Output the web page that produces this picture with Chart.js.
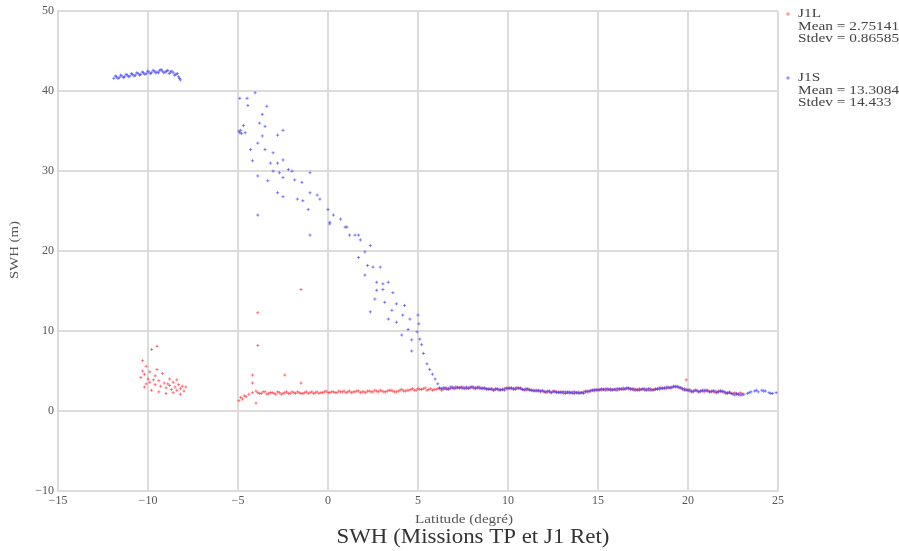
<!DOCTYPE html>
<html>
<head>
<meta charset="utf-8">
<script src="https://cdn.jsdelivr.net/npm/chart.js@4/dist/chart.umd.min.js"></script>
<style>
  html, body { margin: 0; padding: 0; background: #ffffff; }
  #wrap { width: 899px; height: 551px; }
</style>
</head>
<body>
<div id="wrap"><canvas id="swh" width="899" height="551"></canvas></div>
<script>
// Axis ticks
const latTicks = [-15, -10, -5, 0, 5, 10, 15, 20, 25];
const swhTicks = [-10, 0, 10, 20, 30, 40, 50];

// Legend texts for each mission
const seriesNames = ['J1L', 'J1S'];
const seriesMeans = ['2.75141', '13.3084'];
const seriesStdevs = ['0.86585', '14.433'];

// J1L: scattered returns near -10 degrees
const j1lCluster = [
  [-10.3, 6.3], [-10.1, 5.6], [-9.8, 7.7], [-9.5, 8.1], [-10.2, 4.6], [-9.5, 5.2],
  [-9.2, 4.7], [-10.4, 4.2], [-10.0, 4.0], [-9.9, 3.6], [-9.7, 3.9], [-9.6, 3.3],
  [-9.4, 3.8], [-9.3, 3.1], [-9.1, 3.5], [-9.0, 2.9], [-8.9, 3.4], [-8.8, 3.2],
  [-8.7, 2.7], [-8.6, 3.6], [-8.5, 3.0], [-8.4, 2.6], [-8.3, 3.3], [-8.2, 2.8],
  [-8.1, 3.1], [-8.0, 2.5], [-7.9, 3.0], [-10.2, 3.0], [-9.8, 2.6], [-9.4, 2.4],
  [-9.0, 2.2], [-8.6, 2.3], [-8.2, 2.1], [-10.1, 3.4], [-9.6, 4.4], [-8.8, 4.0],
  [-8.4, 3.9], [-10.3, 5.0], [-9.9, 4.9]
];

// J1L: isolated outliers
const j1lOutliers = [
  [-3.9, 12.3], [-3.9, 8.2], [-1.5, 15.2], [-4.2, 4.5], [-2.4, 4.5],
  [-1.5, 3.5], [-4.2, 3.5], [-4.0, 1.0], [19.9, 3.9]
];

// J1L: main track, even samples
const j1lTrack = [
  [-4.95, 1.3], [-4.85, 1.7], [-4.75, 1.5], [-4.65, 1.9], [-4.55, 1.8], [-4.4, 2.1],
  [-4.2, 2.3], [-4.0, 2.5], [-3.8, 2.2], [-3.6, 2.4], [-3.4, 2.1], [-3.2, 2.3],
  [-3.0, 2.2], [-2.8, 2.4], [-2.6, 2.1], [-2.4, 2.3], [-2.2, 2.2], [-2.0, 2.4],
  [-1.8, 2.2], [-1.6, 2.3], [-1.4, 2.2], [-1.2, 2.4], [-1.0, 2.3], [-0.8, 2.2],
  [-0.6, 2.4], [-0.4, 2.3], [-0.2, 2.4], [0.0, 2.3], [0.2, 2.4], [0.4, 2.3],
  [0.6, 2.5], [0.8, 2.4], [1.0, 2.3], [1.2, 2.5], [1.4, 2.4], [1.6, 2.5],
  [1.8, 2.3], [2.0, 2.4], [2.2, 2.5], [2.4, 2.4], [2.6, 2.6], [2.8, 2.4],
  [3.0, 2.5], [3.2, 2.4], [3.4, 2.6], [3.6, 2.5], [3.8, 2.4], [4.0, 2.6],
  [4.2, 2.5], [4.4, 2.6], [4.6, 2.7], [4.8, 2.6], [5.0, 2.8], [5.2, 2.7],
  [5.4, 2.9], [5.6, 2.7], [5.8, 2.6], [6.0, 2.7], [6.2, 2.8], [6.4, 2.7],
  [6.6, 2.9], [6.8, 2.8], [7.0, 2.9], [7.2, 3.0], [7.4, 2.9], [7.6, 2.8],
  [7.8, 2.9], [8.0, 3.0], [8.2, 2.9], [8.4, 2.8], [8.6, 2.9], [8.8, 2.7],
  [9.0, 2.8], [9.2, 2.6], [9.4, 2.7], [9.6, 2.6], [9.8, 2.8], [10.0, 2.9],
  [10.2, 2.8], [10.4, 2.9], [10.6, 2.8], [10.8, 2.7], [11.0, 2.6], [11.2, 2.7],
  [11.4, 2.5], [11.6, 2.6], [11.8, 2.4], [12.0, 2.5], [12.2, 2.4], [12.4, 2.3],
  [12.6, 2.5], [12.8, 2.4], [13.0, 2.3], [13.2, 2.4], [13.4, 2.2], [13.6, 2.4],
  [13.8, 2.3], [14.0, 2.2], [14.2, 2.4], [14.4, 2.5], [14.6, 2.6], [14.8, 2.5],
  [15.0, 2.7], [15.2, 2.6], [15.4, 2.8], [15.6, 2.7], [15.8, 2.6], [16.0, 2.8],
  [16.2, 2.7], [16.4, 2.9], [16.6, 2.8], [16.8, 2.7], [17.0, 2.8], [17.2, 2.6],
  [17.4, 2.7], [17.6, 2.8], [17.8, 2.6], [18.0, 2.7], [18.2, 2.8], [18.4, 2.7],
  [18.6, 2.9], [18.8, 2.8], [19.0, 2.9], [19.2, 3.0], [19.4, 3.1], [19.6, 2.9],
  [19.8, 2.8], [20.0, 2.6], [20.2, 2.5], [20.4, 2.6], [20.6, 2.4], [20.8, 2.6],
  [21.0, 2.5], [21.2, 2.4], [21.4, 2.5], [21.6, 2.4], [21.8, 2.5], [22.0, 2.4],
  [22.2, 2.3], [22.4, 2.2], [22.6, 2.3], [22.8, 2.1], [23.0, 2.2]
];

// J1L: main track, odd samples
const j1lTrackOdd = [
  [-3.9, 2.3], [-3.7, 2.2], [-3.5, 2.4], [-3.3, 2.2], [-3.1, 2.3], [-2.9, 2.1],
  [-2.7, 2.3], [-2.5, 2.2], [-2.3, 2.4], [-2.1, 2.2], [-1.9, 2.3], [-1.7, 2.4],
  [-1.5, 2.2], [-1.3, 2.3], [-1.1, 2.2], [-0.9, 2.4], [-0.7, 2.3], [-0.5, 2.2],
  [-0.3, 2.3], [-0.1, 2.5], [0.1, 2.3], [0.3, 2.4], [0.5, 2.3], [0.7, 2.4],
  [0.9, 2.5], [1.1, 2.4], [1.3, 2.3], [1.5, 2.4], [1.7, 2.5], [1.9, 2.4],
  [2.1, 2.3], [2.3, 2.5], [2.5, 2.4], [2.7, 2.5], [2.9, 2.6], [3.1, 2.4],
  [3.3, 2.5], [3.5, 2.6], [3.7, 2.4], [3.9, 2.5], [4.1, 2.7], [4.3, 2.5],
  [4.5, 2.6], [4.7, 2.8], [4.9, 2.6], [5.1, 2.7], [5.3, 2.8], [5.5, 2.6],
  [5.7, 2.8], [5.9, 2.7], [6.1, 2.8], [6.3, 2.6], [6.5, 2.8], [6.7, 2.7],
  [6.9, 3.0], [7.1, 2.8], [7.3, 2.9], [7.5, 3.0], [7.7, 2.8], [7.9, 3.0],
  [8.1, 2.8], [8.3, 3.0], [8.5, 2.9], [8.7, 2.8], [8.9, 2.8], [9.1, 2.7],
  [9.3, 2.8], [9.5, 2.7], [9.7, 2.7], [9.9, 2.9], [10.1, 2.8], [10.3, 2.7],
  [10.5, 2.8], [10.7, 2.9], [10.9, 2.6], [11.1, 2.8], [11.3, 2.6], [11.5, 2.6],
  [11.7, 2.5], [11.9, 2.6], [12.1, 2.3], [12.3, 2.4], [12.5, 2.5], [12.7, 2.3],
  [12.9, 2.4], [13.1, 2.2], [13.3, 2.4], [13.5, 2.3], [13.7, 2.2], [13.9, 2.4],
  [14.1, 2.3], [14.3, 2.5], [14.5, 2.4], [14.7, 2.6], [14.9, 2.7], [15.1, 2.6],
  [15.3, 2.7], [15.5, 2.6], [15.7, 2.8], [15.9, 2.7], [16.1, 2.6], [16.3, 2.8],
  [16.5, 2.7], [16.7, 2.9], [16.9, 2.8], [17.1, 2.6], [17.3, 2.8], [17.5, 2.7],
  [17.7, 2.6], [17.9, 2.8], [18.1, 2.6], [18.3, 2.7], [18.5, 2.9], [18.7, 2.8],
  [18.9, 3.0], [19.1, 2.9], [19.3, 3.0], [19.5, 2.9], [19.7, 2.7], [19.9, 2.6],
  [20.1, 2.7], [20.3, 2.4], [20.5, 2.6], [20.7, 2.5], [20.9, 2.4], [21.1, 2.6],
  [21.3, 2.5], [21.5, 2.3], [21.7, 2.5], [21.9, 2.4], [22.1, 2.2], [22.3, 2.4],
  [22.5, 2.2], [22.7, 2.1], [22.9, 2.3]
];

// J1S: plateau between -12 and -8 degrees
const j1sPlateau = [
  [-11.9, 41.6], [-11.75, 41.8], [-11.6, 41.7], [-11.45, 41.9], [-11.3, 41.8],
  [-11.15, 42.0], [-11.0, 41.9], [-10.85, 42.1], [-10.7, 42.0], [-10.55, 42.2],
  [-10.4, 42.1], [-10.25, 42.3], [-10.1, 42.2], [-9.95, 42.4], [-9.8, 42.3],
  [-9.65, 42.5], [-9.5, 42.4], [-9.35, 42.6], [-9.2, 42.5], [-9.05, 42.4],
  [-8.9, 42.6], [-8.75, 42.4], [-8.6, 42.3], [-8.45, 42.1], [-8.3, 41.8], [-8.2, 41.4],
  [-11.82, 41.9], [-11.67, 41.6], [-11.52, 42.0], [-11.37, 41.7], [-11.22, 42.1],
  [-11.07, 41.8], [-10.92, 42.2], [-10.77, 41.9], [-10.62, 42.3], [-10.47, 42.0],
  [-10.32, 42.4], [-10.17, 42.1], [-10.02, 42.5], [-9.87, 42.2], [-9.72, 42.6],
  [-9.57, 42.3], [-9.42, 42.3], [-9.27, 42.7], [-9.12, 42.3], [-8.97, 42.5],
  [-8.82, 42.2], [-8.67, 42.5], [-8.52, 42.0], [-8.37, 42.2], [-8.25, 41.6]
];

// J1S: descending branch from -5 to 6 degrees
const j1sDescent = [
  [-4.95, 35.0], [-4.9, 34.8], [-4.85, 35.1], [-4.8, 34.7], [-4.6, 34.8],
  [-4.9, 39.1], [-4.5, 39.1], [-4.45, 38.2], [-4.05, 39.8], [-3.4, 38.1],
  [-3.65, 37.1], [-4.7, 35.7], [-3.8, 36.0], [-3.5, 35.6], [-3.65, 34.4],
  [-3.9, 33.5], [-4.3, 32.7], [-3.5, 32.7], [-3.05, 32.3], [-2.8, 34.5],
  [-2.5, 35.1], [-4.2, 31.3], [-3.2, 31.0], [-2.8, 31.0], [-2.5, 31.4],
  [-2.2, 30.2], [-2.0, 30.0], [-2.7, 29.8], [-3.05, 30.0], [-3.9, 29.4],
  [-3.35, 28.8], [-2.5, 29.2], [-1.85, 28.9], [-1.45, 28.6], [-1.0, 29.8],
  [-2.8, 27.3], [-2.5, 26.8], [-1.7, 26.5], [-1.4, 26.3], [-1.0, 27.3],
  [-0.6, 27.0], [-0.45, 26.5], [0.0, 25.2], [0.3, 24.5], [0.7, 24.0],
  [1.05, 23.0], [1.2, 22.0], [1.7, 22.0], [-1.0, 22.0], [-3.9, 24.5],
  [-1.1, 25.2], [0.1, 23.6], [0.1, 23.4], [0.95, 23.0], [1.5, 22.0],
  [1.8, 21.4], [2.35, 20.7], [2.05, 19.9], [1.7, 19.2], [2.2, 18.2],
  [2.5, 18.0], [2.9, 18.0], [2.05, 17.0], [2.7, 16.1], [3.05, 15.9],
  [3.35, 16.1], [2.7, 15.1], [3.05, 15.2], [3.6, 14.8], [2.6, 14.0],
  [3.15, 13.6], [3.8, 13.4], [4.25, 13.2], [2.35, 12.4], [3.55, 12.6],
  [3.35, 11.5], [3.8, 11.1], [4.15, 12.0], [4.55, 11.5], [5.0, 12.0],
  [5.05, 10.9], [4.1, 9.5], [4.45, 10.2], [4.95, 9.9], [4.65, 8.9],
  [5.1, 9.0], [4.65, 7.5], [5.2, 8.3], [5.3, 7.2], [5.5, 5.9],
  [5.65, 5.2], [5.8, 4.6], [5.95, 4.0], [6.1, 3.4], [6.2, 2.9]
];

// J1S: flat track from 6 to 25 degrees, odd samples
const j1sTrack = [
  [6.3, 2.8], [6.5, 2.9], [6.7, 2.8], [6.9, 2.9], [7.1, 3.0], [7.3, 2.9],
  [7.5, 2.8], [7.7, 3.0], [7.9, 2.9], [8.1, 3.0], [8.3, 2.9], [8.5, 2.8],
  [8.7, 2.9], [8.9, 2.7], [9.1, 2.8], [9.3, 2.7], [9.5, 2.6], [9.7, 2.7],
  [9.9, 2.8], [10.1, 2.9], [10.3, 2.8], [10.5, 2.9], [10.7, 2.8], [10.9, 2.7],
  [11.1, 2.7], [11.3, 2.6], [11.5, 2.5], [11.7, 2.6], [11.9, 2.5], [12.1, 2.4],
  [12.3, 2.5], [12.5, 2.4], [12.7, 2.4], [12.9, 2.3], [13.1, 2.4], [13.3, 2.3],
  [13.5, 2.3], [13.7, 2.4], [13.9, 2.2], [14.1, 2.3], [14.3, 2.4], [14.5, 2.5],
  [14.7, 2.6], [14.9, 2.6], [15.1, 2.7], [15.3, 2.7], [15.5, 2.8], [15.7, 2.6],
  [15.9, 2.7], [16.1, 2.8], [16.3, 2.7], [16.5, 2.8], [16.7, 2.8], [16.9, 2.7],
  [17.1, 2.7], [17.3, 2.6], [17.5, 2.8], [17.7, 2.7], [17.9, 2.6], [18.1, 2.7],
  [18.3, 2.8], [18.5, 2.8], [18.7, 2.9], [18.9, 2.9], [19.1, 3.0], [19.3, 3.1],
  [19.5, 3.0], [19.7, 2.8], [19.9, 2.7], [20.1, 2.5], [20.3, 2.5], [20.5, 2.5],
  [20.7, 2.5], [20.9, 2.6], [21.1, 2.5], [21.3, 2.4], [21.5, 2.5], [21.7, 2.4],
  [21.9, 2.5], [22.1, 2.3], [22.3, 2.3], [22.5, 2.1], [22.7, 2.2], [22.9, 2.0],
  [23.1, 2.1], [23.3, 2.2], [23.5, 2.4], [23.7, 2.5], [23.9, 2.4], [24.1, 2.6],
  [24.3, 2.5], [24.5, 2.3], [24.7, 2.2], [24.9, 2.3]
];

// J1S: flat track, even samples
const j1sTrackEven = [
  [6.4, 2.9], [6.6, 2.7], [6.8, 3.0], [7.0, 2.8], [7.2, 2.9], [7.4, 3.0],
  [7.6, 2.9], [7.8, 2.8], [8.0, 3.0], [8.2, 2.8], [8.4, 3.0], [8.6, 2.8],
  [8.8, 2.8], [9.0, 2.7], [9.2, 2.6], [9.4, 2.8], [9.6, 2.7], [9.8, 2.6],
  [10.0, 2.8], [10.2, 2.9], [10.4, 2.7], [10.6, 2.9], [10.8, 2.7], [11.0, 2.8],
  [11.2, 2.6], [11.4, 2.6], [11.6, 2.5], [11.8, 2.5], [12.0, 2.4], [12.2, 2.5],
  [12.4, 2.3], [12.6, 2.4], [12.8, 2.3], [13.0, 2.4], [13.2, 2.2], [13.4, 2.4],
  [13.6, 2.2], [13.8, 2.3], [14.0, 2.3], [14.2, 2.2], [14.4, 2.4], [14.6, 2.5],
  [14.8, 2.7], [15.0, 2.6], [15.2, 2.8], [15.4, 2.6], [15.6, 2.7], [15.8, 2.7],
  [16.0, 2.6], [16.2, 2.8], [16.4, 2.7], [16.6, 2.9], [16.8, 2.8], [17.0, 2.6],
  [17.2, 2.7], [17.4, 2.7], [17.6, 2.6], [17.8, 2.8], [18.0, 2.6], [18.2, 2.7],
  [18.4, 2.9], [18.6, 2.8], [18.8, 3.0], [19.0, 2.9], [19.2, 3.1], [19.4, 3.0],
  [19.6, 2.9], [19.8, 2.6], [20.0, 2.6], [20.2, 2.4], [20.4, 2.6], [20.6, 2.4],
  [20.8, 2.5], [21.0, 2.6], [21.2, 2.4], [21.4, 2.5], [21.6, 2.3], [21.8, 2.5],
  [22.0, 2.4], [22.2, 2.2], [22.4, 2.2], [22.6, 2.0], [22.8, 2.1], [23.0, 2.0],
  [23.4, 2.3], [23.8, 2.6], [24.2, 2.5], [24.6, 2.2]
];

const toXY = (pairs) => pairs.map(([x, y]) => ({ x, y }));
const j1lData = toXY([...j1lCluster, ...j1lOutliers, ...j1lTrack, ...j1lTrackOdd]);
const j1sData = toXY([...j1sPlateau, ...j1sDescent, ...j1sTrack, ...j1sTrackEven]);

const RED = 'rgba(255, 50, 60, 0.6)';
const BLUE = 'rgba(60, 60, 255, 0.6)';
const SERIF = '"Liberation Serif", "DejaVu Serif", serif';
const GRID = '#dcdcdc';

const minus = (v) => String(v).replace('-', '\u2212');

// Text drawn to a given width, centred on (cx, cy)
function wideText(ctx, text, cx, cy, font, width) {
  ctx.save();
  ctx.font = font;
  const natural = ctx.measureText(text).width;
  ctx.translate(cx, cy);
  ctx.scale(width / natural, 1);
  ctx.textAlign = 'center';
  ctx.fillText(text, 0, 0);
  ctx.restore();
}

// Left-aligned text with a horizontal stretch
function stretchedText(ctx, text, x, y, sx) {
  ctx.save();
  ctx.translate(x, y);
  ctx.scale(sx, 1);
  ctx.textAlign = 'left';
  ctx.fillText(text, 0, 0);
  ctx.restore();
}

// Side legend, axis titles and bottom title
const annotations = {
  id: 'annotations',
  afterDraw(chart) {
    const ctx = chart.ctx;
    ctx.save();
    ctx.textBaseline = 'middle';
    const colors = [RED, BLUE];
    const tops = [14, 78];
    seriesNames.forEach((name, i) => {
      const y = tops[i];
      ctx.strokeStyle = colors[i];
      ctx.lineWidth = 1;
      ctx.beginPath();
      ctx.moveTo(786, y); ctx.lineTo(790, y);
      ctx.moveTo(788, y - 2); ctx.lineTo(788, y + 2);
      ctx.stroke();
      ctx.fillStyle = '#444';
      ctx.font = '13px ' + SERIF;
      stretchedText(ctx, name, 798, y, 1.18);
      stretchedText(ctx, 'Mean = ' + seriesMeans[i], 798, y + 13, 1.18);
      stretchedText(ctx, 'Stdev = ' + seriesStdevs[i], 798, y + 25, 1.18);
    });

    // x axis title
    ctx.fillStyle = '#555';
    wideText(ctx, 'Latitude (degré)', 464, 520, '12px ' + SERIF, 98);

    // y axis title
    ctx.save();
    ctx.translate(15, 250);
    ctx.rotate(-Math.PI / 2);
    wideText(ctx, 'SWH (m)', 0, 0, '12px ' + SERIF, 58);
    ctx.restore();

    // chart title
    ctx.fillStyle = '#333';
    wideText(ctx, 'SWH (Missions TP et J1 Ret)', 473, 537, '21px ' + SERIF, 273);
    ctx.restore();
  }
};

const pointStyle = (color) => ({
  pointStyle: 'cross',
  pointRadius: 1.6,
  borderWidth: 1,
  borderColor: color,
  backgroundColor: color
});

new Chart(document.getElementById('swh'), {
  type: 'scatter',
  data: {
    datasets: [
      Object.assign({ label: seriesNames[1], data: j1sData, order: 0 }, pointStyle(BLUE)),
      Object.assign({ label: seriesNames[0], data: j1lData, order: 1 }, pointStyle(RED))
    ]
  },
  options: {
    responsive: false,
    animation: false,
    devicePixelRatio: 1,
    layout: { padding: { left: 0, top: 7, right: 121, bottom: 40 } },
    plugins: {
      legend: { display: false },
      tooltip: { enabled: false },
      title: { display: false }
    },
    scales: {
      x: {
        type: 'linear',
        min: latTicks[0],
        max: latTicks[latTicks.length - 1],
        afterBuildTicks: (scale) => { scale.ticks = latTicks.map(v => ({ value: v })); },
        afterFit: (scale) => { scale.height = 20; },
        grid: { color: GRID, lineWidth: 2, drawTicks: false },
        border: { color: GRID, width: 2 },
        ticks: {
          padding: 3,
          color: '#555',
          font: { family: SERIF, size: 12 },
          callback: (v) => minus(v),
          maxRotation: 0
        }
      },
      y: {
        type: 'linear',
        min: swhTicks[0],
        max: swhTicks[swhTicks.length - 1],
        afterBuildTicks: (scale) => { scale.ticks = swhTicks.map(v => ({ value: v })); },
        afterFit: (scale) => { scale.width = 58; },
        grid: { color: GRID, lineWidth: 2, drawTicks: false },
        border: { color: GRID, width: 2 },
        ticks: {
          padding: 4,
          color: '#555',
          font: { family: SERIF, size: 12 },
          callback: (v) => minus(v)
        }
      }
    }
  },
  plugins: [annotations]
});
</script>
</body>
</html>
